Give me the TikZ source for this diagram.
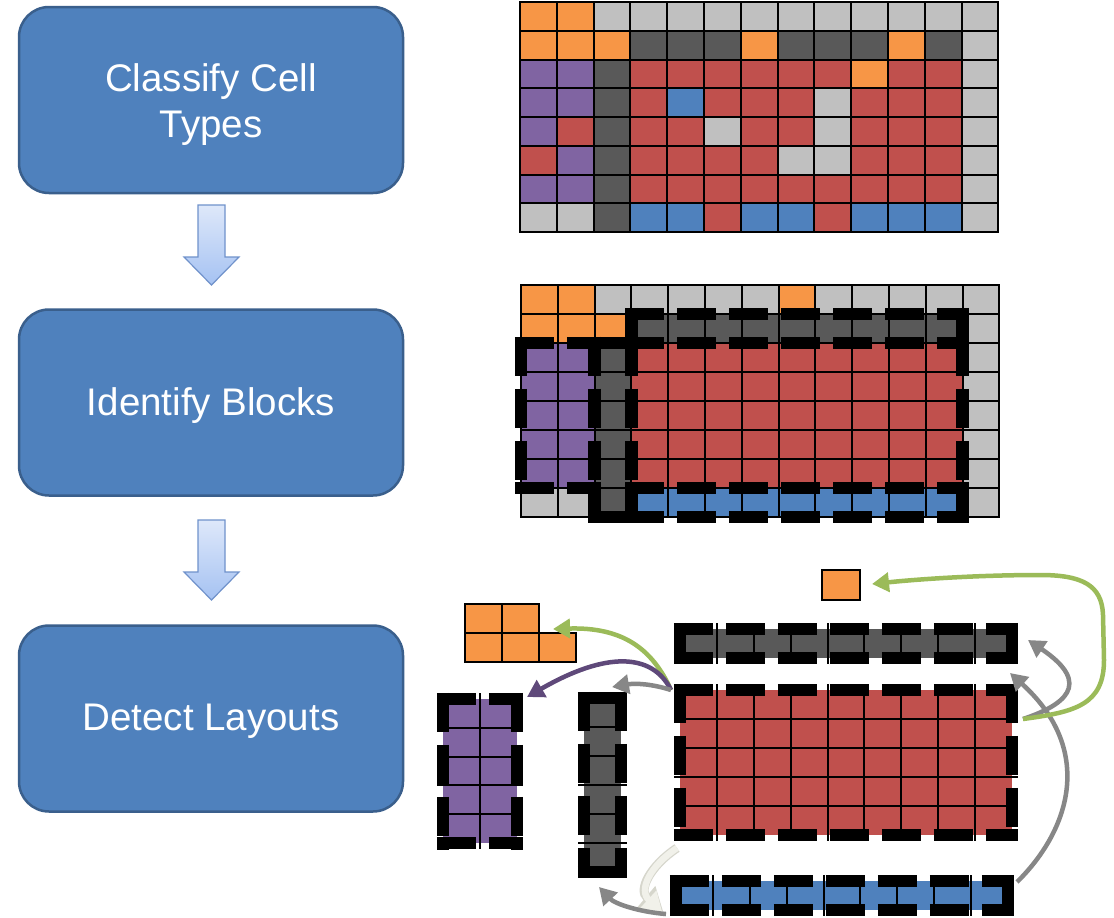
\documentclass[tikz,border=0pt]{standalone}
\usepackage{fontspec}
\newfontfamily\boxfont{Liberation Sans}
\usetikzlibrary{arrows.meta}

% cell colours
\definecolor{cO}{HTML}{F79646}
\definecolor{cL}{HTML}{C0C0C0}
\definecolor{cD}{HTML}{595959}
\definecolor{cR}{HTML}{C0504D}
\definecolor{cP}{HTML}{8064A2}
\definecolor{cB}{HTML}{4F81BD}
% process boxes and arrows
\definecolor{stepfill}{HTML}{4F81BD}
\definecolor{stepline}{HTML}{3A5F8C}
\definecolor{dnTop}{HTML}{DEE8FA}
\definecolor{dnBot}{HTML}{A5C2F2}
\definecolor{dnLine}{HTML}{7092CB}
\definecolor{arrgreen}{HTML}{9BBB59}
\definecolor{arrpurple}{HTML}{5F497A}
\definecolor{arrgray}{HTML}{878787}
\definecolor{arrpale}{HTML}{F1F1EA}
\definecolor{arrpaleedge}{HTML}{D6D6CC}

\tikzset{
  stepbox/.style={draw=stepline, line width=2.5pt, fill=stepfill,
    rounded corners=30pt, minimum width=384pt, minimum height=186pt,
    inner sep=0pt},
  steptext/.style={text=white, font=\boxfont\fontsize{38.5}{46}\selectfont,
    align=center, inner sep=0pt},
  downarrow/.style={draw=dnLine, line width=1.2pt, top color=dnTop,
    bottom color=dnBot, line join=miter},
  gridln/.style={line width=2pt, black},
  cellln/.style={line width=1.5pt, black},
  frm/.style={line width=12.5pt, black, dash pattern=on 39pt off 13pt},
  link/.style={line width=4.5pt, -{Triangle[length=17pt,width=19pt]}},
}

% thick dashed frame around a block, each side starting at a corner
\newcommand\dframe[4]{%
  \draw[frm] ({#1-6.25},#2) -- ({#3+6.25},#2);
  \draw[frm] ({#1-6.25},#4) -- ({#3+6.25},#4);
  \draw[frm] (#1,{#2-6.25}) -- (#1,{#4+6.25});
  \draw[frm] (#3,{#2-6.25}) -- (#3,{#4+6.25});
}
% filled block of cells with its inner grid lines
\newcommand\cblock[7]{%
  \fill[fill=#7] (#1,#2) rectangle (#3,#4);
  \foreach \k in {1,...,#5}{\ifnum\k<#5
    \draw[gridln] ({#1+\k*(#3-#1)/#5},{#2-6}) -- ({#1+\k*(#3-#1)/#5},{#4+6});\fi}
  \foreach \k in {1,...,#6}{\ifnum\k<#6
    \draw[gridln] ({#1-6},{#2+\k*(#4-#2)/#6}) -- ({#3+6},{#2+\k*(#4-#2)/#6});\fi}
}

\begin{document}
\begin{tikzpicture}[x=1pt,y=-1pt]
\useasboundingbox (0,0) rectangle (1114,918);
\fill[white] (0,0) rectangle (1114,918);

% ---- process steps ----
\node[stepbox] (classify) at (211,100) {};
\node[stepbox] (identify) at (211,402.5) {};
\node[stepbox] (detect) at (211,718.5) {};
\node[steptext] (classify-t) at ([yshift=-5pt]classify.center) {Classify Cell\\Types};
\node[steptext] (identify-t) at ([yshift=-3pt]identify.center) {Identify Blocks};
\node[steptext] (detect-t) at ([yshift=-3pt]detect.center) {Detect Layouts};

\coordinate (d1) at (211.5,205);
\coordinate (d2) at (211.5,520);
\foreach \d in {d1,d2}
  \draw[downarrow] (\d) ++(-13.5,0) -- ++(27,0) -- ++(0,52) -- ++(14,0)
    -- ++(-27.5,28) -- ++(-27.5,-28) -- ++(14,0) -- cycle;

% ---- cell type grid ----
\foreach \rowspec [count=\r from 0] in {
  {O,O,L,L,L,L,L,L,L,L,L,L,L},
  {O,O,O,D,D,D,O,D,D,D,O,D,L},
  {P,P,D,R,R,R,R,R,R,O,R,R,L},
  {P,P,D,R,B,R,R,R,L,R,R,R,L},
  {P,R,D,R,R,L,R,R,L,R,R,R,L},
  {R,P,D,R,R,R,R,L,L,R,R,R,L},
  {P,P,D,R,R,R,R,R,R,R,R,R,L},
  {L,L,D,B,B,R,B,B,R,B,B,B,L}}
  \foreach \cc [count=\k from 0] in \rowspec
    \fill[fill=c\cc] ({520+\k*36.8},{2+\r*28.75}) rectangle ++(36.8,28.75);
\foreach \k in {0,...,13} \draw[gridln] ({520+\k*36.8},2) -- ({520+\k*36.8},232);
\foreach \r in {0,...,8} \draw[gridln] (519,{2+\r*28.75}) -- (999.4,{2+\r*28.75});

% ---- block grid ----
\foreach \rowspec [count=\r from 0] in {
  {O,O,L,L,L,L,L,O,L,L,L,L,L},
  {O,O,O,D,D,D,D,D,D,D,D,D,L},
  {P,P,D,R,R,R,R,R,R,R,R,R,L},
  {P,P,D,R,R,R,R,R,R,R,R,R,L},
  {P,P,D,R,R,R,R,R,R,R,R,R,L},
  {P,P,D,R,R,R,R,R,R,R,R,R,L},
  {P,P,D,R,R,R,R,R,R,R,R,R,L},
  {L,L,D,B,B,B,B,B,B,B,B,B,L}}
  \foreach \cc [count=\k from 0] in \rowspec
    \fill[fill=c\cc] ({521+\k*36.8},{285+\r*29}) rectangle ++(36.8,29);
\foreach \k in {0,...,13} \draw[gridln] ({521+\k*36.8},285) -- ({521+\k*36.8},517);
\foreach \r in {0,...,8} \draw[gridln] (520,{285+\r*29}) -- (1000.4,{285+\r*29});
\dframe{521}{343}{594.6}{488}
\dframe{594.6}{343}{631.4}{517}
\dframe{631.4}{314}{962.6}{343}
\dframe{631.4}{343}{962.6}{488}
\dframe{631.4}{488}{962.6}{517}

% ---- detected layouts ----
\foreach \x/\y in {465/604, 502/604, 465/633, 502/633, 539/633}
  \draw[cellln, fill=cO] (\x,\y) rectangle ++(37,29);
\draw[cellln, fill=cO] (822,570) rectangle (860,600);

\cblock{680}{629}{1012}{658}{9}{1}{cD}
\dframe{680}{629}{1012}{658}
\cblock{680}{690}{1012}{835}{9}{5}{cR}
\dframe{680}{690}{1012}{835}
\cblock{676}{881}{1008}{910}{9}{1}{cB}
\dframe{676}{881}{1008}{910}
\cblock{443}{699}{517}{843}{2}{5}{cP}
\dframe{443}{699}{517}{843}
\cblock{584}{698}{621}{872}{1}{6}{cD}
\dframe{584}{698}{621}{872}

% ---- arrow end points ----
\coordinate (redTL) at (671,690);
\coordinate (redR) at (1023,719);
\coordinate (redBL) at (677,848);
\coordinate (redTR) at (1010,673);
\coordinate (blueR) at (1017,882);
\coordinate (blueL) at (666,914);
\coordinate (blueTL) at (663,911);
\coordinate (orangeL) at (553,629);
\coordinate (purpleTR) at (527,697);
\coordinate (darkcolTR) at (612,687);
\coordinate (darkcolB) at (599,887);
\coordinate (singleE) at (872,584);
\coordinate (darkrowE) at (1028,640);

% ---- arrows ----
\draw[line width=9pt, arrpaleedge, -{Triangle[length=22pt,width=27pt]}]
  (redBL) .. controls (650,866) and (638,890) .. (blueTL);
\draw[line width=6.5pt, arrpale, -{Triangle[length=19pt,width=23pt]}]
  (redBL) .. controls (650,866) and (638,890) .. ([shift={(-0.8pt,-1.2pt)}]blueTL);
\draw[link, arrgreen] (redTL) .. controls (652,648) and (622,627) .. (orangeL);
\draw[link, arrpurple] (redTL) .. controls (652,652) and (605,652) .. (purpleTR);
\draw[link, arrgray] (redTL) .. controls (652,684) and (636,683) .. (darkcolTR);
\draw[link, arrgray] (blueL) .. controls (640,912) and (615,904) .. (darkcolB);
\draw[link, arrgray] (redR) .. controls (1062,706) and (1095,685) .. (darkrowE);
\draw[link, arrgray] (blueR) .. controls (1070,830) and (1095,750) .. (redTR);
\draw[link, arrgreen] (redR) .. controls (1075,712) and (1104,705) .. (1104,660)
  -- (1103,615) .. controls (1102,585) and (1082,575) .. (1040,575)
  .. controls (980,575) and (920,579) .. (singleE);
\end{tikzpicture}
\end{document}
